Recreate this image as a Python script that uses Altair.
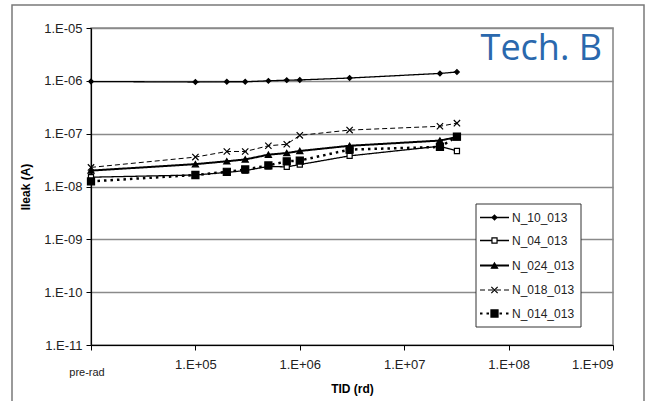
import altair as alt
import pandas as pd

# ---- data ----
tid = [1e4, 1e5, 2e5, 3e5, 5e5, 7.5e5, 1e6, 3e6, 2.2e7, 3.2e7]   # 1e4 = "pre-rad"
series_names = ["N_10_013", "N_04_013", "N_024_013", "N_018_013", "N_014_013"]
n_10_013 = [0.97e-6, 0.95e-6, 0.96e-6, 0.96e-6, 1.0e-6, 1.03e-6, 1.04e-6, 1.13e-6, 1.38e-6, 1.47e-6]
n_04_013 = [1.5e-8, 1.65e-8, 1.85e-8, 2.0e-8, 2.4e-8, 2.35e-8, 2.6e-8, 3.8e-8, 5.8e-8, 4.7e-8]
n_024_013 = [2.0e-8, 2.65e-8, 3.0e-8, 3.25e-8, 4.0e-8, 4.3e-8, 4.7e-8, 5.9e-8, 7.4e-8, 8.6e-8]
n_018_013 = [2.3e-8, 3.6e-8, 4.6e-8, 4.6e-8, 5.9e-8, 6.3e-8, 9.3e-8, 1.17e-7, 1.38e-7, 1.58e-7]
n_014_013 = [1.25e-8, 1.65e-8, 1.9e-8, 2.1e-8, 2.5e-8, 3.0e-8, 3.1e-8, 5.0e-8, 5.6e-8, 8.8e-8]
values = [n_10_013, n_04_013, n_024_013, n_018_013, n_014_013]

x_ticks = [1e4, 1e5, 1e6, 1e7, 1e8, 1e9]
y_ticks = [1e-11, 1e-10, 1e-9, 1e-8, 1e-7, 1e-6, 1e-5]

# ---- styles ----
FONT = "Liberation Sans"
XSHAPE = "M-1,-1L1,1M-1,1L1,-1"
styles = {
    "N_10_013": dict(dash=[1, 0], lw=1.3, shape="diamond", size=22, filled=True),
    "N_04_013": dict(dash=[1, 0], lw=1.3, shape="square", size=26, filled=False),
    "N_024_013": dict(dash=[1, 0], lw=2.0, shape="triangle-up", size=38, filled=True),
    "N_018_013": dict(dash=[5, 3], lw=1.0, shape=XSHAPE, size=40, filled=False),
    "N_014_013": dict(dash=[2.5, 4], lw=2.5, shape="square", size=50, filled=True),
}

xscale = alt.Scale(type="log", domain=[1e4, 1e9], nice=False)
yscale = alt.Scale(type="log", domain=[1e-11, 1e-5], nice=False)

xaxis = alt.Axis(
    values=x_ticks,
    labelExpr="datum.value < 50000 ? '' : '1.E+0' + round(log(datum.value)/LN10)",
    title="TID (rd)", titleFont=FONT, titleFontSize=12, titleFontWeight="bold",
    titleX=261, titleY=43, titleBaseline="middle",
    labelFont=FONT, labelFontSize=13, labelColor="#222",
    tickSize=5, tickColor="#000", domainColor="#000", domainWidth=1.2,
    labelPadding=8, grid=False,
)
yaxis = alt.Axis(
    values=y_ticks,
    labelExpr="'1.E-' + (round(-log(datum.value)/LN10) < 10 ? '0' : '') + round(-log(datum.value)/LN10)",
    title="Ileak (A)", titleFont=FONT, titleFontSize=12, titleFontWeight="bold",
    titleX=-66, titleY=158.5, titleAngle=-90, titleAlign="center", titleBaseline="middle",
    labelFont=FONT, labelFontSize=13, labelColor="#222",
    tickSize=5, tickColor="#000", domainColor="#000", domainWidth=1.2,
    labelPadding=4, grid=True, gridColor="#8a8a8a", gridWidth=1.6,
)

dummy = pd.DataFrame({"a": [0]})
layers = []

# outer frame
layers.append(
    alt.Chart(dummy).mark_rect(fill=None, stroke="#7a7a7a", strokeWidth=1.5, clip=False).encode(
        x=alt.value(-79), x2=alt.value(553), y=alt.value(-23), y2=alt.value(390)
    )
)

for name, vals in zip(series_names, values):
    st = styles[name]
    df = pd.DataFrame({"tid": tid, "ileak": vals, "series": name})
    xenc = alt.X("tid:Q", scale=xscale, axis=xaxis)
    yenc = alt.Y("ileak:Q", scale=yscale, axis=yaxis)
    line = alt.Chart(df).mark_line(
        color="#000", strokeWidth=st["lw"], strokeDash=st["dash"]
    ).encode(x=xenc, y=yenc)
    pt = alt.Chart(df).mark_point(
        shape=st["shape"], size=st["size"], filled=st["filled"],
        fill="#000" if st["filled"] else "#fff", stroke="#000",
        strokeWidth=1.2, opacity=1,
    ).encode(x=xenc, y=yenc)
    layers += [line, pt]

# pre-rad label
layers.append(
    alt.Chart(dummy).mark_text(text="pre-rad", font=FONT, fontSize=11, color="#222",
                               baseline="middle", dx=-4).encode(
        x=alt.datum(1e4, scale=xscale, axis=xaxis), y=alt.value(345)
    )
)

# Tech. B annotation
layers.append(
    alt.Chart(dummy).mark_text(text="Tech. B", font="Open Sans", fontSize=36, color="#2a68ad",
                               align="right", baseline="alphabetic").encode(
        x=alt.value(511), y=alt.value(32)
    )
)

# manual legend
layers.append(
    alt.Chart(dummy).mark_rect(fill="#fff", stroke="#333", strokeWidth=1).encode(
        x=alt.value(385), x2=alt.value(490), y=alt.value(176), y2=alt.value(299)
    )
)
leg_y = [189.5, 212.5, 237.5, 262, 285.5]
for name, yy in zip(series_names, leg_y):
    st = styles[name]
    layers.append(
        alt.Chart(dummy).mark_rule(color="#000", strokeWidth=min(st["lw"], 2.0), strokeDash=st["dash"]).encode(
            x=alt.value(389), x2=alt.value(418), y=alt.value(yy)
        )
    )
    layers.append(
        alt.Chart(dummy).mark_point(
            shape=st["shape"], size=st["size"], filled=st["filled"],
            fill="#000" if st["filled"] else "#fff", stroke="#000", strokeWidth=1.2, opacity=1,
        ).encode(x=alt.value(403.5), y=alt.value(yy))
    )
    layers.append(
        alt.Chart(dummy).mark_text(text=name, font=FONT, fontSize=12, color="#222",
                                   align="left", baseline="middle").encode(
            x=alt.value(421), y=alt.value(yy)
        )
    )

chart = alt.layer(*layers).properties(
    width=522, height=317,
    padding={"left": 91, "top": 28, "right": 33, "bottom": 56},
    autosize=alt.AutoSizeParams(type="none"),
    background="#fff",
).configure_view(stroke="#8a8a8a", strokeWidth=1.6)

chart.save("out.html", embed_options={"renderer": "svg", "actions": False})
